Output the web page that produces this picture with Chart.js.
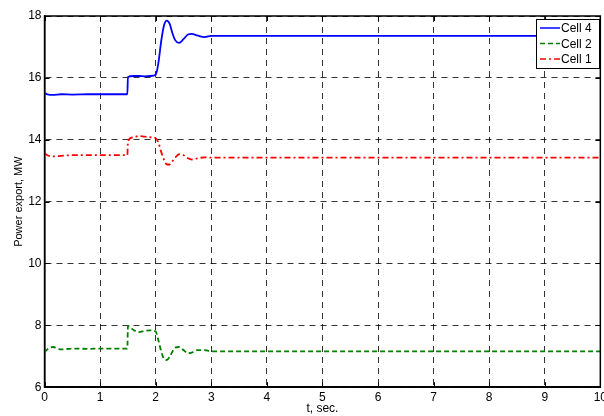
<!DOCTYPE html>
<html>
<head>
<meta charset="utf-8">
<script src="https://cdn.jsdelivr.net/npm/chart.js@4"></script>
<style>
  html, body { margin: 0; padding: 0; background: #fff; overflow: hidden; }
  #wrap { width: 610px; height: 416px; }
</style>
</head>
<body>
<div id="wrap"><canvas id="myChart"></canvas></div>
<script>
const times = [0, 0.05, 0.15, 0.3, 0.5, 0.8, 1.0, 1.2, 1.49, 1.5, 1.6, 1.7, 1.8, 1.9, 2.0, 2.05, 2.1, 2.15, 2.2, 2.25, 2.3, 2.35, 2.42, 2.5, 2.58, 2.65, 2.75, 2.88, 3.0, 3.2, 4, 5, 6, 7, 8, 9, 10];
const cell4 = [15.5, 15.47, 15.45, 15.47, 15.46, 15.47, 15.47, 15.47, 15.47, 16.03, 16.06, 16.06, 16.05, 16.06, 16.1, 16.5, 17.2, 17.7, 17.85, 17.75, 17.45, 17.22, 17.13, 17.25, 17.4, 17.42, 17.37, 17.32, 17.36, 17.36, 17.36, 17.36, 17.36, 17.36, 17.36, 17.36, 17.36];
const cell2 = [7.13, 7.22, 7.3, 7.22, 7.25, 7.24, 7.25, 7.25, 7.25, 7.98, 7.85, 7.78, 7.82, 7.84, 7.8, 7.5, 7.15, 6.92, 6.88, 6.98, 7.15, 7.28, 7.3, 7.2, 7.1, 7.12, 7.2, 7.2, 7.16, 7.16, 7.16, 7.16, 7.16, 7.16, 7.16, 7.16, 7.16];
const cell1 = [13.56, 13.5, 13.46, 13.48, 13.5, 13.5, 13.5, 13.5, 13.5, 13.95, 14.08, 14.12, 14.1, 14.08, 14.05, 13.9, 13.6, 13.35, 13.2, 13.2, 13.3, 13.42, 13.53, 13.5, 13.4, 13.36, 13.4, 13.43, 13.42, 13.42, 13.42, 13.42, 13.42, 13.42, 13.42, 13.42, 13.42];
const xTicks = [0, 1, 2, 3, 4, 5, 6, 7, 8, 9, 10];
const yTicks = [6, 8, 10, 12, 14, 16, 18];

const font = { family: "'Liberation Sans', Arial, sans-serif", size: 12 };
Chart.defaults.font.family = font.family;
Chart.defaults.color = "#000";

const pts = (vals) => vals.map((v, i) => ({ x: times[i], y: v }));

// box, inner tick marks and legend in matlab style
const boxPlugin = {
  id: "box",
  afterDraw(chart) {
    const { ctx, chartArea: a, scales } = chart;
    ctx.save();
    ctx.strokeStyle = "#000";
    ctx.lineWidth = 1;
    ctx.setLineDash([]);
    ctx.beginPath();
    xTicks.forEach((t) => {
      const px = Math.round(scales.x.getPixelForValue(t)) + 0.5;
      ctx.moveTo(px, a.bottom); ctx.lineTo(px, a.bottom - 5);
      ctx.moveTo(px, a.top); ctx.lineTo(px, a.top + 5);
    });
    yTicks.forEach((t) => {
      const py = Math.round(scales.y.getPixelForValue(t)) + 0.5;
      ctx.moveTo(a.left, py); ctx.lineTo(a.left + 5, py);
      ctx.moveTo(a.right, py); ctx.lineTo(a.right - 5, py);
    });
    ctx.stroke();
    ctx.lineWidth = 1.5;
    ctx.strokeRect(a.left, a.top, a.right - a.left, a.bottom - a.top);

    // legend
    const lx = 536, ly = 19, lw = 63, lh = 49;
    ctx.fillStyle = "#fff";
    ctx.fillRect(lx, ly, lw, lh);
    ctx.lineWidth = 1;
    ctx.strokeRect(lx + 0.5, ly + 0.5, lw, lh);
    ctx.font = "12px " + font.family;
    ctx.textBaseline = "middle";
    chart.data.datasets.forEach((ds, i) => {
      const y = ly + 9 + i * 15.5;
      ctx.strokeStyle = ds.borderColor;
      ctx.lineWidth = 1.5;
      ctx.setLineDash(ds.borderDash || []);
      ctx.beginPath();
      ctx.moveTo(lx + 4, y); ctx.lineTo(lx + 24, y);
      ctx.stroke();
      ctx.setLineDash([]);
      ctx.fillStyle = "#000";
      ctx.fillText(ds.label, lx + 25, y + 1);
    });
    ctx.restore();
  },
};

new Chart(document.getElementById("myChart"), {
  type: "line",
  data: {
    datasets: [
      { label: "Cell 4", data: pts(cell4), borderColor: "#0000ff", borderWidth: 1.8 },
      { label: "Cell 2", data: pts(cell2), borderColor: "#008000", borderWidth: 1.8, borderDash: [5, 3] },
      { label: "Cell 1", data: pts(cell1), borderColor: "#ff0000", borderWidth: 1.8, borderDash: [6, 3, 2, 3] },
    ],
  },
  options: {
    responsive: true,
    maintainAspectRatio: false,
    animation: false,
    pointRadius: 0,
    cubicInterpolationMode: "monotone",
    layout: { padding: { top: 16, right: 0, left: 0, bottom: 0 } },
    scales: {
      x: {
        type: "linear",
        min: 0,
        max: 10,
        afterBuildTicks: (s) => { s.ticks = xTicks.map((v) => ({ value: v })); },
        ticks: { font, padding: 3, maxRotation: 0 },
        grid: { color: "rgba(0,0,0,0.8)", drawTicks: false, lineWidth: 1 },
        border: { dash: [6, 5], color: "#000", width: 1.5 },
        title: { display: true, text: "t, sec.", font, padding: { top: -6, bottom: 0 } },
      },
      y: {
        min: 6,
        max: 18,
        afterBuildTicks: (s) => { s.ticks = yTicks.map((v) => ({ value: v })); },
        ticks: { font, padding: 3 },
        grid: { color: "rgba(0,0,0,0.8)", drawTicks: false, lineWidth: 1 },
        border: { dash: [6, 5], color: "#000", width: 1.5 },
        title: { display: true, text: "Power export, MW", font: { family: font.family, size: 11 }, padding: { top: 12, bottom: 0 } },
      },
    },
    plugins: {
      legend: { display: false },
      tooltip: { enabled: false },
    },
  },
  plugins: [boxPlugin],
});
</script>
</body>
</html>
